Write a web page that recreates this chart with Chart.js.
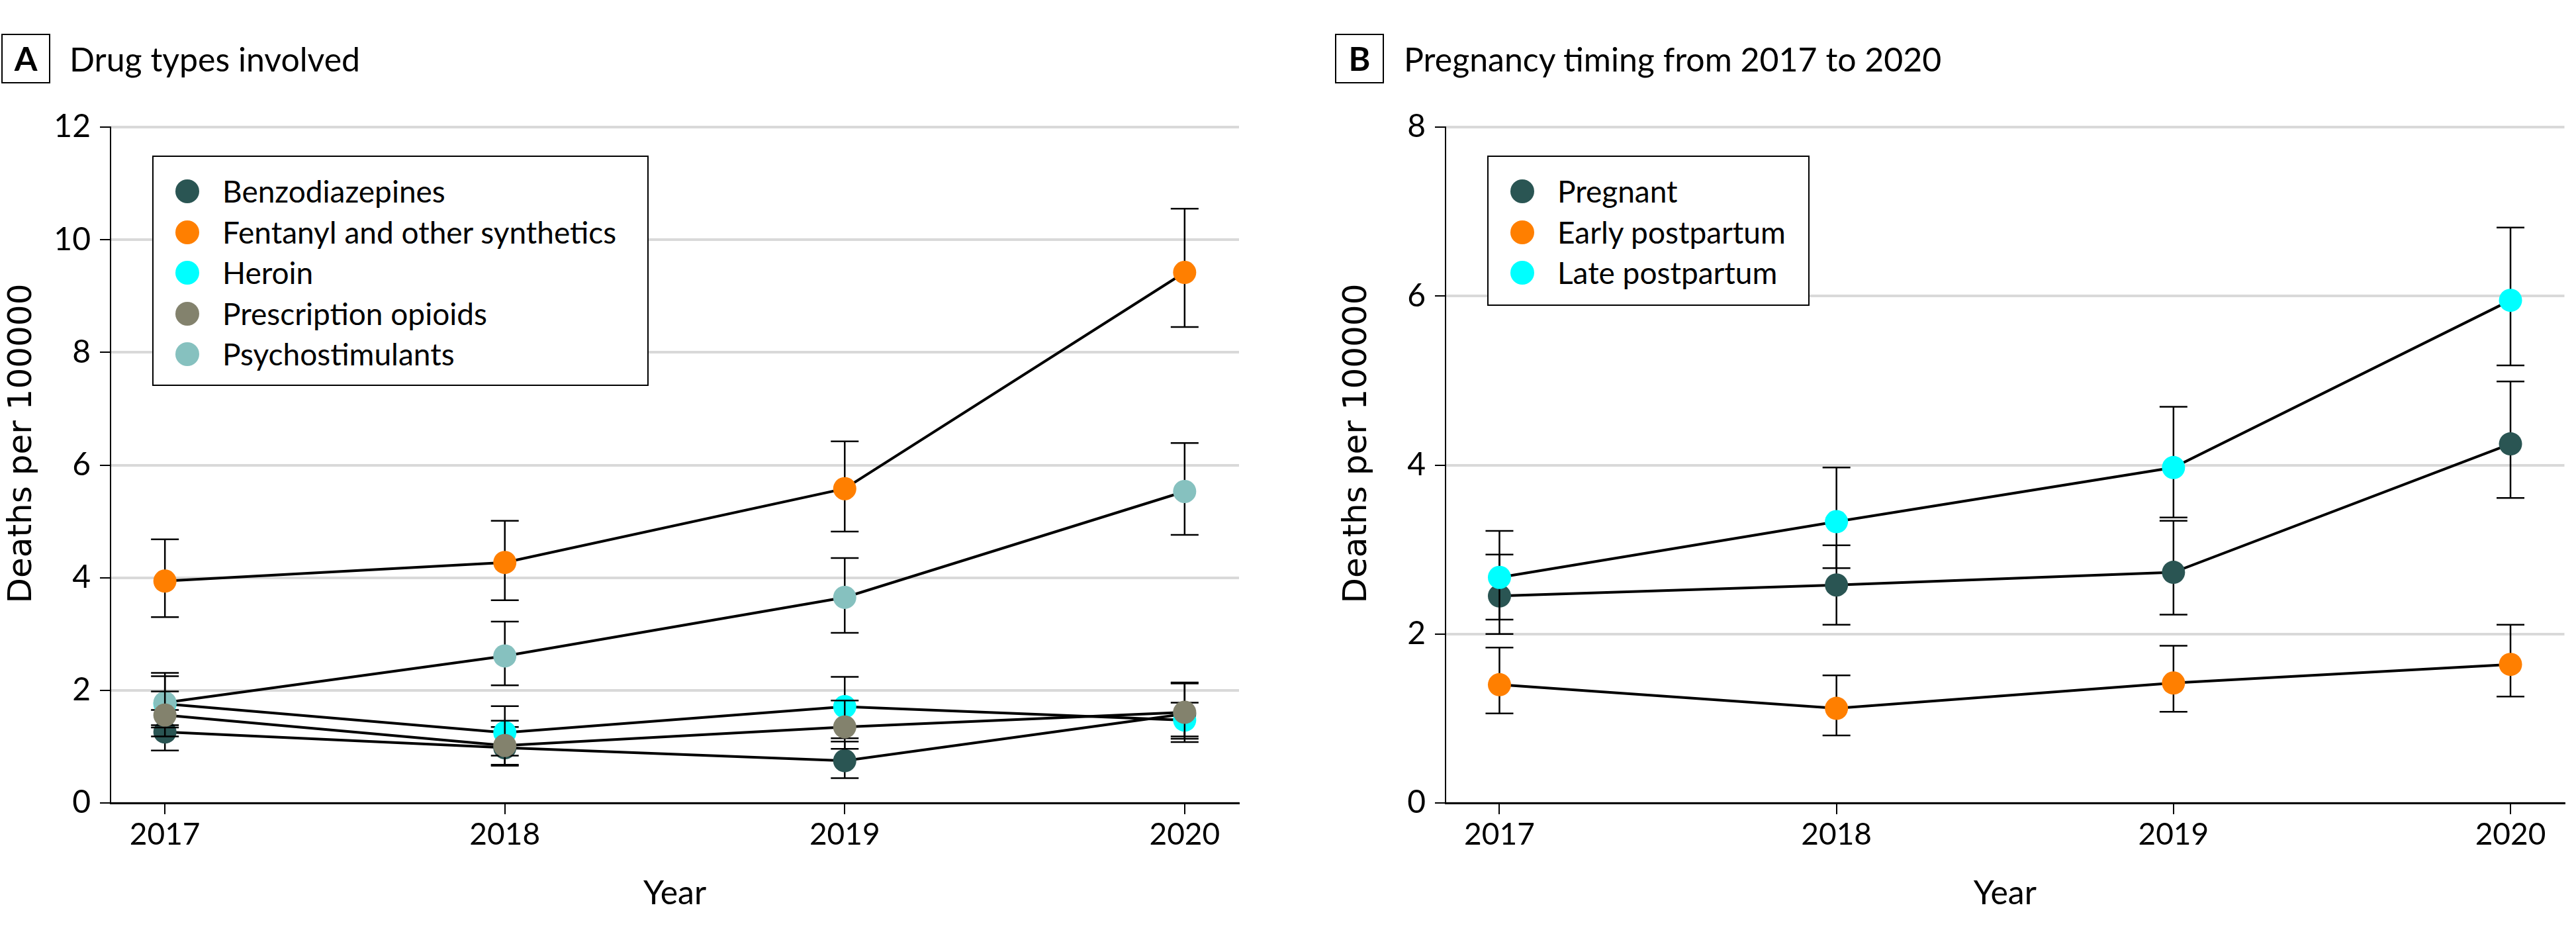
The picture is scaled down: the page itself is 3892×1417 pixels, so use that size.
<!DOCTYPE html>
<html>
<head>
<meta charset="utf-8">
<script src="https://cdn.jsdelivr.net/npm/chart.js@4.4.1/dist/chart.umd.min.js"></script>
<style>
  body { margin: 0; background: #fff; width: 3892px; height: 1417px; position: relative; overflow: hidden; font-family: Lato, sans-serif; color: #000; }
  canvas { position: absolute; top: 0; }
  .tag { position: absolute; top: 51px; width: 70px; height: 71px; border: 2px solid #000; font-weight: bold; font-size: 50px; line-height: 71px; text-align: center; }
  .heading { position: absolute; top: 59px; font-size: 50px; line-height: 60px; white-space: nowrap; }
  .ytitle { position: absolute; top: 640px; width: 600px; height: 60px; margin-left: -300px; font-family: "DejaVu Sans", sans-serif; font-size: 50px; line-height: 60px; text-align: center; transform: rotate(-90deg); white-space: nowrap; }
  .legend { position: absolute; top: 235px; border: 2px solid #000; background: #fff; box-sizing: border-box; z-index: 2; }
  .item { position: absolute; left: 0; height: 50px; font-size: 46px; line-height: 50px; white-space: nowrap; }
  .dot { position: absolute; left: 33px; top: 7px; width: 36px; height: 36px; border-radius: 50%; }
  .item span { position: absolute; left: 104px; top: 0; }
</style>
</head>
<body>
<div class="tag" style="left:2px">A</div>
<div class="heading" style="left:105px">Drug types involved</div>
<div class="tag" style="left:2017px">B</div>
<div class="heading" style="left:2121px">Pregnancy timing from 2017 to 2020</div>

<canvas id="chartA" width="1946" height="1417" style="left:0"></canvas>
<canvas id="chartB" width="1946" height="1417" style="left:1946px"></canvas>
<div class="ytitle" style="left:30px">Deaths per 100000</div>
<div class="ytitle" style="left:2047px">Deaths per 100000</div>
<div class="legend" id="legendA" style="left:230px;width:750px;height:348px"></div>
<div class="legend" id="legendB" style="left:2247px;width:487px;height:227px"></div>

<script>
const years = [2017, 2018, 2019, 2020];

// A: drug types
const drugNames = ["Benzodiazepines", "Fentanyl and other synthetics", "Heroin", "Prescription opioids", "Psychostimulants"];
const benzo = [1.26, 0.98, 0.75, 1.58];
const benzoLo = [0.93, 0.68, 0.44, 1.14];
const benzoHi = [1.65, 1.35, 1.09, 2.12];
const fentanyl = [3.94, 4.27, 5.58, 9.42];
const fentanylLo = [3.30, 3.60, 4.82, 8.45];
const fentanylHi = [4.68, 5.01, 6.42, 10.55];
const heroin = [1.76, 1.25, 1.71, 1.47];
const heroinLo = [1.34, 0.84, 1.15, 1.08];
const heroinHi = [2.25, 1.72, 2.24, 1.78];
const rxOpioids = [1.56, 1.02, 1.35, 1.61];
const rxOpioidsLo = [1.18, 0.66, 0.96, 1.18];
const rxOpioidsHi = [1.98, 1.46, 1.82, 2.14];
const psycho = [1.78, 2.61, 3.65, 5.53];
const psychoLo = [1.38, 2.09, 3.02, 4.76];
const psychoHi = [2.31, 3.22, 4.35, 6.39];
const yTicksA = [0, 2, 4, 6, 8, 10, 12];

// B: pregnancy timing
const timingNames = ["Pregnant", "Early postpartum", "Late postpartum"];
const pregnant = [2.45, 2.58, 2.73, 4.25];
const pregnantLo = [2.00, 2.11, 2.23, 3.61];
const pregnantHi = [2.94, 3.05, 3.34, 4.99];
const earlyPp = [1.40, 1.12, 1.42, 1.64];
const earlyPpLo = [1.06, 0.80, 1.08, 1.26];
const earlyPpHi = [1.84, 1.51, 1.86, 2.11];
const latePp = [2.67, 3.33, 3.97, 5.95];
const latePpLo = [2.17, 2.78, 3.38, 5.18];
const latePpHi = [3.22, 3.97, 4.69, 6.81];
const yTicksB = [0, 2, 4, 6, 8];

const DARK = "#2A5553", ORANGE = "#FF7F00", CYAN = "#00FFFF", OLIVE = "#83826D", TEAL = "#86C1BF";

// draws each series' error bars just before its own dots
const errorBars = {
    id: "errorBars",
    beforeDatasetDraw(chart, args) {
        const ds = chart.data.datasets[args.index];
        if (!ds.lo) return;
        const ctx = chart.ctx;
        const x = chart.scales.x, y = chart.scales.y;
        ctx.save();
        ctx.strokeStyle = "#000";
        ctx.lineWidth = 2.5;
        ds.data.forEach((p, i) => {
            const px = x.getPixelForValue(p.x);
            const top = y.getPixelForValue(ds.hi[i]);
            const bot = y.getPixelForValue(ds.lo[i]);
            ctx.beginPath();
            ctx.moveTo(px, top); ctx.lineTo(px, bot);
            ctx.moveTo(px - 21, top); ctx.lineTo(px + 21, top);
            ctx.moveTo(px - 21, bot); ctx.lineTo(px + 21, bot);
            ctx.stroke();
        });
        ctx.restore();
    }
};

function buildDatasets(series) {
    const lines = series.map(s => ({
        data: years.map((yr, i) => ({ x: yr, y: s.values[i] })),
        borderColor: "#000",
        borderWidth: 4,
        pointRadius: 0,
        order: 100
    }));
    const dots = series.map(s => ({
        data: years.map((yr, i) => ({ x: yr, y: s.values[i] })),
        lo: s.lo,
        hi: s.hi,
        showLine: false,
        pointRadius: 17.5,
        pointBorderWidth: 0,
        pointBackgroundColor: s.color,
        order: s.layer
    }));
    return lines.concat(dots);
}

function makeChart(id, series, yMax, yTicks, yAxisWidth, rightPad) {
    const ctx = document.getElementById(id).getContext("2d");
    return new Chart(ctx, {
        type: "line",
        data: { datasets: buildDatasets(series) },
        plugins: [errorBars],
        options: {
            responsive: false,
            animation: false,
            devicePixelRatio: 1,
            layout: { padding: { top: 192, right: rightPad, left: 0, bottom: 0 } },
            plugins: { legend: { display: false }, tooltip: { enabled: false } },
            scales: {
                x: {
                    type: "linear",
                    min: 2016.84,
                    max: 2020.16,
                    afterBuildTicks: s => { s.ticks = years.map(v => ({ value: v })); },
                    afterFit: s => { s.height = 204; },
                    ticks: { callback: v => String(v), padding: 4, color: "#000", font: { family: "Lato", size: 46 } },
                    grid: { drawOnChartArea: false, drawTicks: true, tickLength: 17, color: "#000", lineWidth: 2 },
                    border: { color: "#000", width: 3 },
                    title: { display: true, text: "Year", color: "#000", font: { family: "Lato", size: 50 }, padding: { top: 0, bottom: 37 } }
                },
                y: {
                    min: 0,
                    max: yMax,
                    afterBuildTicks: s => { s.ticks = yTicks.map(v => ({ value: v })); },
                    afterFit: s => { s.width = yAxisWidth; },
                    ticks: { padding: 14, color: "#000", font: { family: "Lato", size: 48 } },
                    grid: { color: "#D9D9D9", lineWidth: 4, drawTicks: true, tickLength: 16, tickColor: "#000", tickWidth: 2 },
                    border: { color: "#000", width: 2 }
                }
            }
        }
    });
}

function buildLegend(id, names, colors) {
    const box = document.getElementById(id);
    names.forEach((name, i) => {
        const item = document.createElement("div");
        item.className = "item";
        item.style.top = (27 + i * 61.5) + "px";
        item.innerHTML = '<div class="dot" style="background:' + colors[i] + '"></div><span>' + name + '</span>';
        box.appendChild(item);
    });
}

const drugColors = [DARK, ORANGE, CYAN, OLIVE, TEAL];
makeChart("chartA", [
    { values: benzo, lo: benzoLo, hi: benzoHi, color: DARK, layer: 5 },
    { values: fentanyl, lo: fentanylLo, hi: fentanylHi, color: ORANGE, layer: 4 },
    { values: heroin, lo: heroinLo, hi: heroinHi, color: CYAN, layer: 3 },
    { values: rxOpioids, lo: rxOpioidsLo, hi: rxOpioidsHi, color: OLIVE, layer: 1 },
    { values: psycho, lo: psychoLo, hi: psychoHi, color: TEAL, layer: 2 }
], 12, yTicksA, 167, 74);
buildLegend("legendA", drugNames, drugColors);

const timingColors = [DARK, ORANGE, CYAN];
makeChart("chartB", [
    { values: pregnant, lo: pregnantLo, hi: pregnantHi, color: DARK, layer: 3 },
    { values: earlyPp, lo: earlyPpLo, hi: earlyPpHi, color: ORANGE, layer: 2 },
    { values: latePp, lo: latePpLo, hi: latePpHi, color: CYAN, layer: 1 }
], 8, yTicksB, 238, 0);
buildLegend("legendB", timingNames, timingColors);
</script>
</body>
</html>
